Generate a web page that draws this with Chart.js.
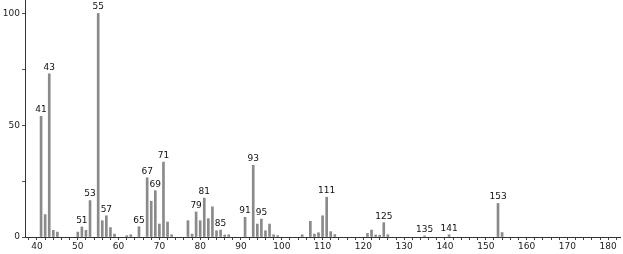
<!DOCTYPE html>
<html>
<head>
<meta charset="utf-8">
<script src="https://cdn.jsdelivr.net/npm/chart.js@4/dist/chart.umd.min.js"></script>
<style>
html,body{margin:0;padding:0;background:#fff;}
#wrap{width:623px;height:254px;position:relative;}
</style>
</head>
<body>
<div id="wrap"><canvas id="c" width="623" height="254"></canvas></div>
<script>
const mzValues = [41,42,43,44,45,50,51,52,53,55,56,57,58,59,62,63,65,67,68,69,70,71,72,73,77,78,79,80,81,82,83,84,85,86,87,91,93,94,95,96,97,98,99,105,107,108,109,110,111,112,113,121,122,123,124,125,126,135,141,153,154];
const intensities = [54,10,73,3,2.2,2.2,4.5,3,16.3,100,7.3,9.5,4.2,1.3,0.6,1,4.6,26.5,16,20.7,5.8,33.5,6.7,1,7.3,1.3,11.2,7.3,17.4,8.2,13.5,2.8,3.1,0.9,1,8.8,32.1,5.8,8,2.8,5.8,1,0.6,1,7,1.3,1.9,9.5,17.8,2.4,1.1,1.6,3.1,0.9,0.8,6.4,1,0.5,1,15,2];
const labeledPeaks = [41,43,51,53,55,57,65,67,69,71,79,81,85,91,93,95,111,125,135,141,153];
const xTickLabels = [40,50,60,70,80,90,100,110,120,130,140,150,160,170,180];
const yTickLabels = [0,50,100];

const points = mzValues.map((m,i)=>({x:m,y:intensities[i]}));

const peakLabelPlugin = {
  id:'peakLabels',
  afterDatasetsDraw(chart){
    const ctx = chart.ctx;
    const meta = chart.getDatasetMeta(0);
    ctx.save();
    ctx.font = '9px "DejaVu Sans", sans-serif';
    ctx.fillStyle = '#111';
    ctx.textAlign = 'center';
    ctx.textBaseline = 'bottom';
    meta.data.forEach((el,i)=>{
      const m = mzValues[i];
      if (labeledPeaks.includes(m)) {
        ctx.fillText(String(m), el.x, el.y - 2);
      }
    });
    ctx.restore();
  }
};

new Chart(document.getElementById('c'), {
  type:'bar',
  data:{datasets:[{
    data:points,
    backgroundColor:'#8a8a8a',
    borderWidth:0,
    barThickness:2,
    clip:false
  }]},
  options:{
    responsive:false,
    animation:false,
    events:[],
    layout:{padding:{left:0,right:3,top:0,bottom:0}},
    plugins:{legend:{display:false},tooltip:{enabled:false}},
    scales:{
      x:{
        type:'linear',
        offset:false,
        min:37.06,
        max:182.9,
        afterBuildTicks(axis){
          const t=[];
          for(let v=38; v<=182; v+=2) t.push({value:v});
          axis.ticks=t;
        },
        afterFit(scale){ scale.height = 17; scale.paddingLeft = 0; scale.paddingRight = 0; },
        grid:{display:true,offset:false,drawOnChartArea:false,drawTicks:true,tickLength:3,color:'#444',tickWidth:1},
        border:{display:true,color:'#333',width:1},
        ticks:{
          autoSkip:false,
          maxRotation:0,
          padding:1,
          color:'#222',
          font:{size:9,family:'"DejaVu Sans", sans-serif'},
          callback:(v)=> xTickLabels.includes(v) ? String(v) : ''
        }
      },
      y:{
        min:0,
        max:106,
        afterBuildTicks(axis){
          axis.ticks=[0,25,50,75,100].map(v=>({value:v}));
        },
        afterFit(scale){ scale.width = 25; scale.paddingTop = 0; scale.paddingBottom = 0; },
        grid:{display:true,drawOnChartArea:false,drawTicks:true,tickLength:3,color:'#555'},
        border:{display:true,color:'#333',width:1},
        ticks:{
          padding:2,
          color:'#222',
          font:{size:9,family:'"DejaVu Sans", sans-serif'},
          callback:(v)=> yTickLabels.includes(v) ? String(v) : ''
        }
      }
    }
  },
  plugins:[peakLabelPlugin]
});
</script>
</body>
</html>
